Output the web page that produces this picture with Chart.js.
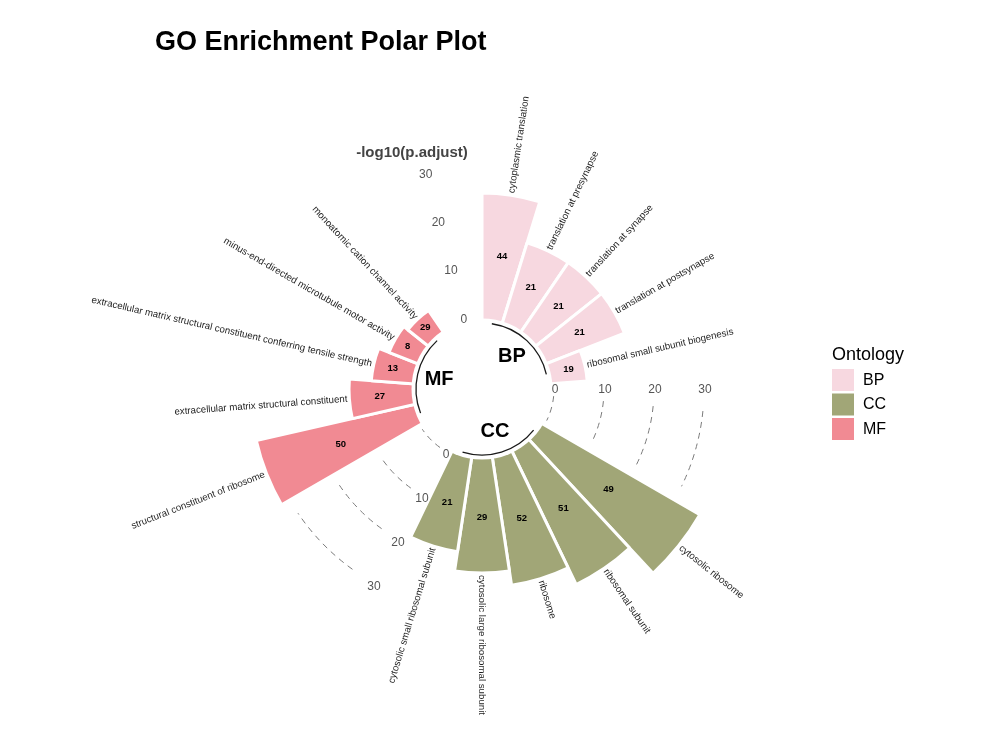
<!DOCTYPE html>
<html>
<head>
<meta charset="utf-8">
<script src="https://cdn.jsdelivr.net/npm/chart.js@4.4.1/dist/chart.umd.min.js"></script>
<style>
  html, body { margin: 0; padding: 0; background: #ffffff; }
  #wrap { width: 1000px; height: 749px; }
</style>
</head>
<body>
<div id="wrap"><canvas id="c" width="1000" height="749"></canvas></div>
<script>
// ---------------- data ----------------
const bpTerms = ['cytoplasmic translation', 'translation at presynapse', 'translation at synapse', 'translation at postsynapse', 'ribosomal small subunit biogenesis'];
const bpValues = [24.8, 16.2, 16.2, 16.2, 6.7];
const bpCounts = [44, 21, 21, 21, 19];

const ccTerms = ['cytosolic ribosome', 'ribosomal subunit', 'ribosome', 'cytosolic large ribosomal subunit', 'cytosolic small ribosomal subunit'];
const ccValues = [35.9, 29.0, 25.3, 22.4, 18.5];
const ccCounts = [49, 51, 52, 29, 21];

const mfTerms = ['structural constituent of ribosome', 'extracellular matrix structural constituent', 'extracellular matrix structural constituent conferring tensile strength', 'minus-end-directed microtubule motor activity', 'monoatomic cation channel activity'];
const mfValues = [31.9, 12.2, 7.8, 5.6, 4.6];
const mfCounts = [50, 27, 13, 8, 29];

const groupNames = ['BP', 'CC', 'MF'];
const axisTicks = [0, 10, 20, 30];
const axisTitle = '-log10(p.adjust)';
const chartTitle = 'GO Enrichment Polar Plot';
const legendTitle = 'Ontology';

// ---------------- styles ----------------
const groupColors = { BP: '#F7D8E0', CC: '#A1A677', MF: '#F18A93' };
const FONT = "'Liberation Sans', Arial, Helvetica, sans-serif";
const EMPTY_PER_GROUP = 2;

// build slot table (bars + empty spacer slots after each group)
const groupTable = [
  ['BP', bpTerms, bpValues, bpCounts],
  ['CC', ccTerms, ccValues, ccCounts],
  ['MF', mfTerms, mfValues, mfCounts]
];
const slots = [];
groupTable.forEach(([g, terms, vals, counts]) => {
  terms.forEach((t, i) => slots.push({ g, term: t, v: vals[i], n: counts[i] }));
  for (let k = 0; k < EMPTY_PER_GROUP; k++) slots.push(null);
});

const deg = Math.PI / 180;

const decorPlugin = {
  id: 'decor',
  afterDatasetsDraw(chart) {
    const ctx = chart.ctx;
    const scale = chart.scales.r;
    const meta = chart.getDatasetMeta(0);
    const cx = scale.xCenter, cy = scale.yCenter;
    const R = v => scale.getDistanceFromCenterForValue(v);
    // angle in canvas radians from "clockwise degrees from 12 o'clock"
    const A = d => (d - 90) * deg;

    ctx.save();
    // white hole in the middle
    ctx.beginPath();
    ctx.arc(cx, cy, R(0) - 1.5, 0, Math.PI * 2);
    ctx.fillStyle = '#ffffff';
    ctx.fill();

    // dashed guide arcs in two of the gaps
    const dashGaps = [[95.7, 116], [215.7, 236]];
    ctx.strokeStyle = '#7a7a7a';
    ctx.lineWidth = 1;
    ctx.setLineDash([6, 5]);
    dashGaps.forEach(([a0, a1]) => {
      axisTicks.forEach(t => {
        ctx.beginPath();
        ctx.arc(cx, cy, R(t), A(a0), A(a1));
        ctx.stroke();
      });
    });
    ctx.setLineDash([]);

    // tick labels in the three gaps
    const tickGaps = [[345.3, 0], [90.3, 1], [208.7, 3]];
    ctx.fillStyle = '#555555';
    ctx.font = '12px ' + FONT;
    ctx.textAlign = 'center';
    ctx.textBaseline = 'middle';
    tickGaps.forEach(([a, off]) => {
      axisTicks.forEach(t => {
        const r = R(t) + off;
        ctx.fillText(String(t), cx + Math.cos(A(a)) * r, cy + Math.sin(A(a)) * r);
      });
    });

    // group arcs and names
    let idx = 0;
    groupNames.forEach(g => {
      const first = idx;
      while (idx < slots.length && slots[idx] && slots[idx].g === g) idx++;
      const last = idx - 1;
      idx += EMPTY_PER_GROUP;
      const a0 = meta.data[first], a1 = meta.data[last];
      const m0 = (a0.startAngle + a0.endAngle) / 2;
      const m1 = (a1.startAngle + a1.endAngle) / 2;
      ctx.beginPath();
      ctx.arc(cx, cy, R(0) - 6, m0, m1);
      ctx.strokeStyle = '#1a1a1a';
      ctx.lineWidth = 1.3;
      ctx.stroke();
      const mid = (a0.startAngle + a1.endAngle) / 2;
      const rl = R(-5.6);
      ctx.fillStyle = '#000000';
      ctx.font = 'bold 20px ' + FONT;
      ctx.textAlign = 'center';
      ctx.textBaseline = 'middle';
      ctx.fillText(g, cx + Math.cos(mid) * rl, cy + Math.sin(mid) * rl);
    });

    // bar labels and counts
    slots.forEach((s, i) => {
      if (!s) return;
      const arc = meta.data[i];
      const mid = (arc.startAngle + arc.endAngle) / 2;
      // count inside bar
      const rc = R(s.v / 2);
      ctx.fillStyle = '#000000';
      ctx.font = 'bold 9.5px ' + FONT;
      ctx.textAlign = 'center';
      ctx.textBaseline = 'middle';
      ctx.fillText(String(s.n), cx + Math.cos(mid) * rc, cy + Math.sin(mid) * rc);
      // term label outside bar
      const rt = arc.outerRadius + 2;
      const clock = mid + Math.PI / 2; // 0..2pi clockwise from top
      ctx.save();
      ctx.translate(cx + Math.cos(mid) * rt, cy + Math.sin(mid) * rt);
      ctx.font = '9.7px ' + FONT;
      ctx.fillStyle = '#1e1e1e';
      if (clock <= Math.PI + 0.01) {
        ctx.rotate(mid);
        ctx.textAlign = 'left';
      } else {
        ctx.rotate(mid + Math.PI);
        ctx.textAlign = 'right';
      }
      ctx.fillText(s.term, 0, 0);
      ctx.restore();
    });
    ctx.restore();
  },
  afterDraw(chart) {
    const ctx = chart.ctx;
    ctx.save();
    // main title
    ctx.fillStyle = '#000000';
    ctx.font = 'bold 27px ' + FONT;
    ctx.textAlign = 'left';
    ctx.textBaseline = 'middle';
    ctx.fillText(chartTitle, 155, 43);
    // axis title
    ctx.fillStyle = '#444444';
    ctx.font = 'bold 15px ' + FONT;
    ctx.textAlign = 'center';
    ctx.fillText(axisTitle, 412, 153);
    // legend
    ctx.fillStyle = '#000000';
    ctx.font = '18px ' + FONT;
    ctx.textAlign = 'left';
    ctx.fillText(legendTitle, 832, 355);
    groupNames.forEach((g, k) => {
      const y = 369 + k * 24.5;
      ctx.fillStyle = groupColors[g];
      ctx.fillRect(832, y, 22, 22);
      ctx.fillStyle = '#000000';
      ctx.font = '16px ' + FONT;
      ctx.fillText(g, 863, y + 11.5);
    });
    ctx.restore();
  }
};

new Chart(document.getElementById('c'), {
  type: 'polarArea',
  data: {
    labels: slots.map(s => (s ? s.term : '')),
    datasets: [{
      data: slots.map(s => (s ? s.v : 0)),
      backgroundColor: slots.map(s => (s ? groupColors[s.g] : 'rgba(0,0,0,0)')),
      borderColor: '#ffffff',
      borderWidth: slots.map(s => (s ? 3 : 0))
    }]
  },
  options: {
    responsive: false,
    animation: false,
    events: [],
    layout: { padding: { left: 160, right: 196, top: 67, bottom: 38 } },
    plugins: { legend: { display: false }, tooltip: { enabled: false }, title: { display: false } },
    scales: {
      r: {
        type: 'radialLinear',
        min: -14.4,
        max: 50,
        bounds: 'data',
        startAngle: 0,
        grid: { display: false },
        angleLines: { display: false },
        ticks: { display: false },
        pointLabels: { display: false }
      }
    }
  },
  plugins: [decorPlugin]
});
</script>
</body>
</html>
